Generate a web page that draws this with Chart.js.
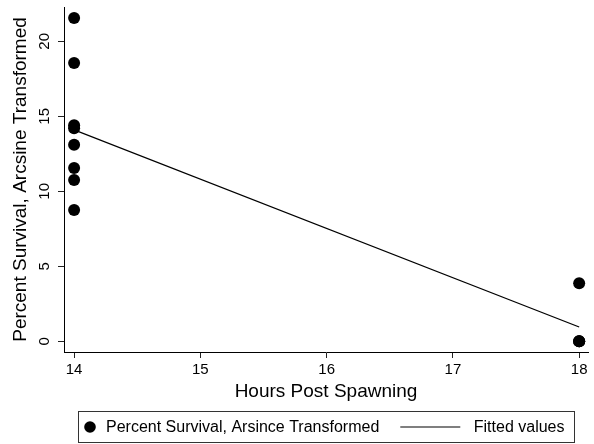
<!DOCTYPE html>
<html>
<head>
<meta charset="utf-8">
<script src="https://cdn.jsdelivr.net/npm/chart.js@4.4.1/dist/chart.umd.min.js"></script>
<style>
  html, body { margin: 0; padding: 0; background: #fff; }
  canvas { display: block; }
</style>
</head>
<body>
<canvas id="chart" width="594" height="444"></canvas>
<script>
// Observations: hours post spawning vs. arcsine-transformed percent survival
const hoursObserved   = [14, 14, 14, 14, 14, 14, 14, 14, 18, 18, 18, 18];
const survivalArcsine = [21.55, 18.55, 14.4, 14.2, 13.1, 11.55, 10.75, 8.75, 3.87, 0, 0, 0];

// Linear fit evaluated at the observed hours
const fitHours     = [14, 18];
const fittedValues = [14.1, 0.95];

const xTickValues = [14, 15, 16, 17, 18];
const yTickValues = [0, 5, 10, 15, 20];

const seriesNames = ['Percent Survival, Arsince Transformed', 'Fitted values'];
const xTitle = 'Hours Post Spawning';
const yTitle = 'Percent Survival, Arcsine Transformed';

const FONT = '"Liberation Sans", Arial, sans-serif';
const INK = '#000';

// Rotated tick labels on the vertical axis (read bottom to top)
const verticalTickLabels = {
  id: 'verticalTickLabels',
  afterDraw(chart) {
    const ys = chart.scales.y;
    const ctx = chart.ctx;
    ctx.save();
    ctx.font = '15px ' + FONT;
    ctx.fillStyle = INK;
    ctx.textAlign = 'center';
    ctx.textBaseline = 'middle';
    ys.ticks.forEach(t => {
      const py = ys.getPixelForValue(t.value);
      ctx.save();
      ctx.translate(ys.right - 20, py);
      ctx.rotate(-Math.PI / 2);
      ctx.fillText(String(t.value), 0, 1);
      ctx.restore();
    });
    ctx.restore();
  }
};

// Boxed legend below the axis title
const boxedLegend = {
  id: 'boxedLegend',
  afterDraw(chart) {
    const ctx = chart.ctx;
    const area = chart.chartArea;
    const ds = chart.data.datasets;
    ctx.save();
    ctx.font = '16px ' + FONT;
    const w2 = ctx.measureText(ds[1].label).width;
    const boxW = 496, boxH = 31;
    const cx = (area.left + area.right) / 2;
    const left = Math.round(cx - boxW / 2) + 0.5;
    const right = left + boxW;
    const top = 411.5;
    const midY = top + boxH / 2;

    ctx.fillStyle = '#fff';
    ctx.fillRect(left, top, boxW, boxH);
    ctx.strokeStyle = '#333';
    ctx.lineWidth = 1;
    ctx.strokeRect(left, top, boxW, boxH);

    // marker
    ctx.fillStyle = ds[0].backgroundColor;
    ctx.beginPath();
    ctx.arc(left + 11.5, midY, 5.8, 0, Math.PI * 2);
    ctx.fill();

    ctx.fillStyle = INK;
    ctx.textAlign = 'left';
    ctx.textBaseline = 'middle';
    ctx.fillText(ds[0].label, left + 27.5, midY + 1);

    // line sample and its label, anchored to the right edge
    const t2 = right - 10 - w2;
    const lx = t2 - 13.5 - 60;
    ctx.strokeStyle = ds[1].borderColor;
    ctx.lineWidth = ds[1].borderWidth;
    ctx.beginPath();
    ctx.moveTo(lx, midY);
    ctx.lineTo(lx + 60, midY);
    ctx.stroke();

    ctx.fillText(ds[1].label, t2, midY + 1);
    ctx.restore();
  }
};

const scatterPoints = hoursObserved.map((h, i) => ({ x: h, y: survivalArcsine[i] }));
const fitPoints = fitHours.map((h, i) => ({ x: h, y: fittedValues[i] }));

new Chart(document.getElementById('chart'), {
  type: 'scatter',
  data: {
    datasets: [
      {
        label: seriesNames[0],
        data: scatterPoints,
        backgroundColor: INK,
        borderColor: INK,
        pointRadius: 6,
        pointBorderWidth: 0,
        order: 1
      },
      {
        type: 'line',
        label: seriesNames[1],
        data: fitPoints,
        borderColor: INK,
        borderWidth: 1.2,
        pointRadius: 0,
        fill: false,
        tension: 0,
        order: 2
      }
    ]
  },
  options: {
    responsive: false,
    animation: false,
    devicePixelRatio: 1,
    layout: { padding: { top: 7, right: 0, bottom: 32, left: 0 } },
    plugins: {
      legend: { display: false },
      tooltip: { enabled: false }
    },
    scales: {
      x: {
        type: 'linear',
        min: 13.92,
        max: 18.07,
        afterBuildTicks: s => { s.ticks = xTickValues.map(v => ({ value: v })); },
        afterFit: s => { s.height = 60; },
        grid: { drawOnChartArea: false, drawTicks: true, tickLength: 6, color: '#222', lineWidth: 1 },
        border: { display: true, color: INK, width: 1 },
        ticks: { color: INK, font: { family: FONT, size: 15 }, padding: 3, maxRotation: 0 },
        title: {
          display: true, text: xTitle, color: INK,
          font: { family: FONT, size: 19 },
          padding: { top: 0, bottom: 9 }
        }
      },
      y: {
        type: 'linear',
        min: -0.713,
        max: 22.29,
        afterBuildTicks: s => { s.ticks = yTickValues.map(v => ({ value: v })); },
        afterFit: s => { s.width = 64; },
        grid: { drawOnChartArea: false, drawTicks: true, tickLength: 6, color: '#222', lineWidth: 1 },
        border: { display: true, color: INK, width: 1 },
        ticks: { display: false },
        title: {
          display: true, text: yTitle, color: INK,
          font: { family: FONT, size: 19 },
          padding: { top: 9, bottom: 0 }
        }
      }
    }
  },
  plugins: [verticalTickLabels, boxedLegend]
});
</script>
</body>
</html>
